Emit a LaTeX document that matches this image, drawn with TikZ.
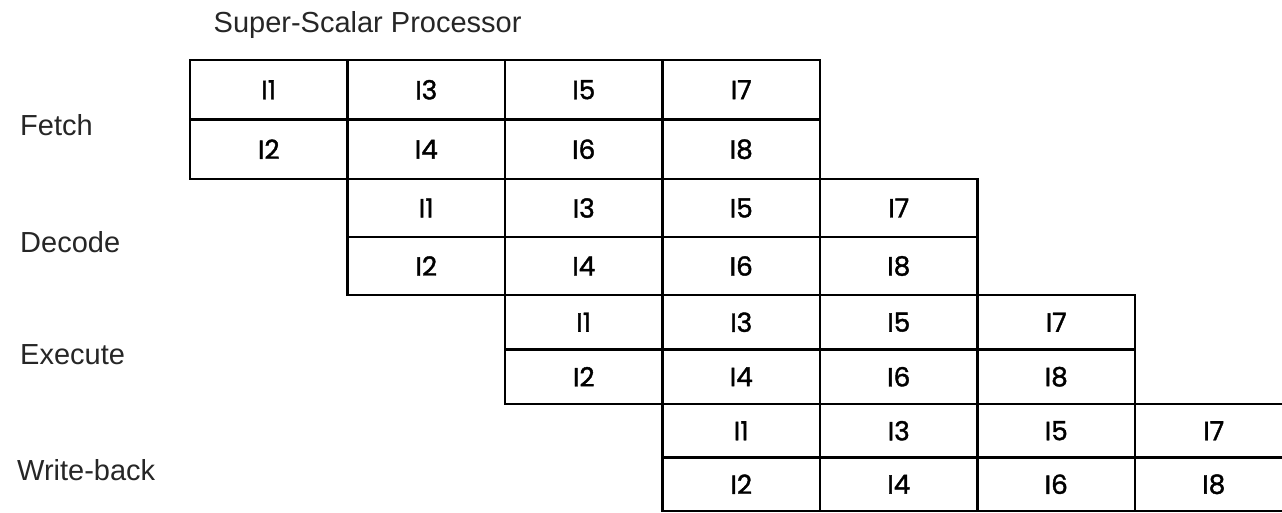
\documentclass[tikz,border=0pt]{standalone}
\usepackage{fontspec}
\setmainfont{Liberation Sans}
\newfontfamily\cellfont[FakeBold=1.5]{Poppins}

\tikzset{
  slot/.style={draw, line width=1.6pt, minimum width=3.15cm, minimum height=#1,
    inner sep=0pt, font=\cellfont\fontsize{15}{17}\selectfont},
  stagelbl/.style={anchor=west, text=black!85, font=\fontsize{16.5}{19}\selectfont},
}

\begin{document}
\begin{tikzpicture}

% Frame
\clip (0,0) rectangle (25.64,-10.26);

% Title
\node[stagelbl] (title) at (4.15,-0.5) {Super-Scalar Processor};

% Stage labels
\node[stagelbl] (fetch) at (0.28,-2.5) {Fetch};
\node[stagelbl] (decode) at (0.28,-4.84) {Decode};
\node[stagelbl] (execute) at (0.28,-7.1) {Execute};
\node[stagelbl] (wb) at (0.22,-9.4) {Write-back};

% Fetch
\node[slot=1.19cm] (f1) at (5.375,-1.795) {I1};
\node[slot=1.19cm] (f2) at (5.375,-2.985) {I2};
\node[slot=1.19cm] (f3) at (8.525,-1.795) {I3};
\node[slot=1.19cm] (f4) at (8.525,-2.985) {I4};
\node[slot=1.19cm] (f5) at (11.675,-1.795) {I5};
\node[slot=1.19cm] (f6) at (11.675,-2.985) {I6};
\node[slot=1.19cm] (f7) at (14.825,-1.795) {I7};
\node[slot=1.19cm] (f8) at (14.825,-2.985) {I8};

% Decode
\node[slot=1.16cm] (d1) at (8.525,-4.16) {I1};
\node[slot=1.16cm] (d2) at (8.525,-5.32) {I2};
\node[slot=1.16cm] (d3) at (11.675,-4.16) {I3};
\node[slot=1.16cm] (d4) at (11.675,-5.32) {I4};
\node[slot=1.16cm] (d5) at (14.825,-4.16) {I5};
\node[slot=1.16cm] (d6) at (14.825,-5.32) {I6};
\node[slot=1.16cm] (d7) at (17.975,-4.16) {I7};
\node[slot=1.16cm] (d8) at (17.975,-5.32) {I8};

% Execute
\node[slot=1.09cm] (e1) at (11.675,-6.445) {I1};
\node[slot=1.09cm] (e2) at (11.675,-7.535) {I2};
\node[slot=1.09cm] (e3) at (14.825,-6.445) {I3};
\node[slot=1.09cm] (e4) at (14.825,-7.535) {I4};
\node[slot=1.09cm] (e5) at (17.975,-6.445) {I5};
\node[slot=1.09cm] (e6) at (17.975,-7.535) {I6};
\node[slot=1.09cm] (e7) at (21.125,-6.445) {I7};
\node[slot=1.09cm] (e8) at (21.125,-7.535) {I8};

% Write-back
\node[slot=1.07cm] (w1) at (14.825,-8.615) {I1};
\node[slot=1.07cm] (w2) at (14.825,-9.685) {I2};
\node[slot=1.07cm] (w3) at (17.975,-8.615) {I3};
\node[slot=1.07cm] (w4) at (17.975,-9.685) {I4};
\node[slot=1.07cm] (w5) at (21.125,-8.615) {I5};
\node[slot=1.07cm] (w6) at (21.125,-9.685) {I6};
\node[slot=1.07cm] (w7) at (24.275,-8.615) {I7};
\node[slot=1.07cm] (w8) at (24.275,-9.685) {I8};

\end{tikzpicture}
\end{document}
